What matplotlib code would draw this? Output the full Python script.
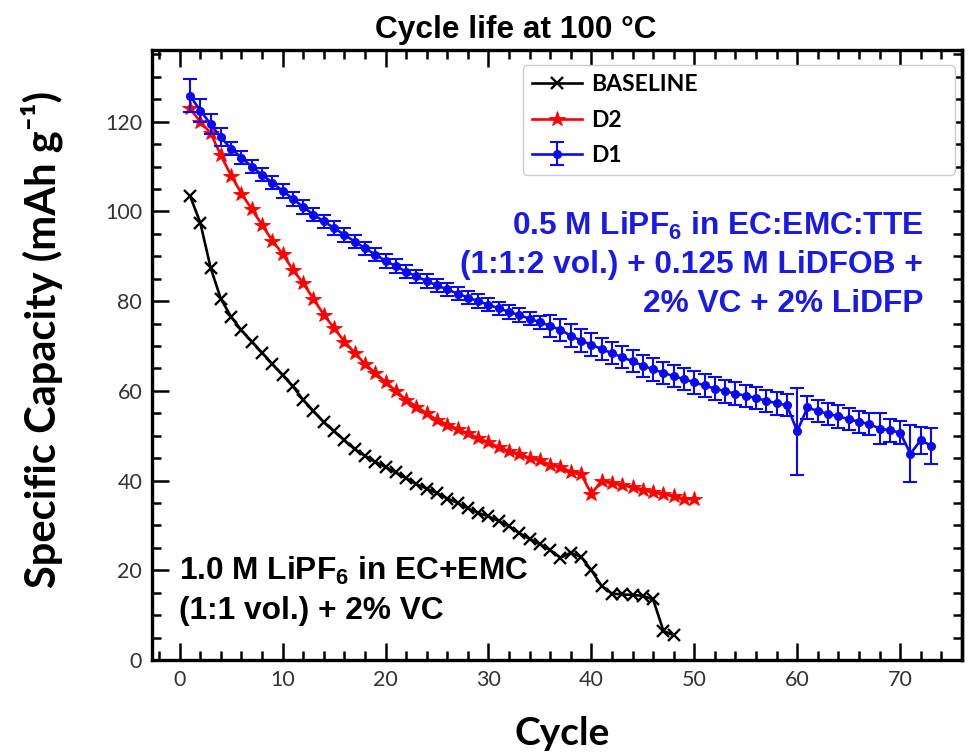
import matplotlib
matplotlib.use("Agg")
import matplotlib.pyplot as plt
from matplotlib.ticker import MultipleLocator

# ---------------- data ----------------
baseline_cycle = list(range(1, 49))
baseline_cap = [103.5, 97.5, 87.5, 80.5, 76.5, 73.5, 71.0, 68.5, 66.0, 63.5,
                61.0, 58.0, 55.5, 53.0, 51.0, 49.0, 47.0, 45.5, 44.2, 43.0,
                41.8, 40.5, 39.2, 38.2, 37.2, 36.0, 35.0, 33.8, 32.8, 32.0,
                31.0, 29.8, 28.3, 27.0, 25.8, 24.5, 22.8, 23.9, 23.0, 20.0,
                16.5, 14.8, 14.6, 14.5, 14.3, 13.5, 6.5, 5.5]

d2_cycle = list(range(1, 51))
d2_cap = [123.0, 120.0, 117.5, 112.5, 108.0, 104.0, 100.5, 97.0, 93.5, 90.5,
          87.0, 84.0, 80.5, 77.0, 74.0, 71.0, 68.5, 66.0, 64.0, 62.0,
          60.0, 58.0, 56.5, 55.0, 53.5, 52.5, 51.5, 50.5, 49.5, 48.5,
          47.5, 46.5, 46.0, 45.0, 44.5, 43.5, 43.0, 42.0, 41.5, 37.0,
          40.0, 39.5, 39.0, 38.5, 38.0, 37.5, 37.0, 36.5, 36.0, 35.8]

d1_cycle = list(range(1, 74))
d1_cap = [125.8, 122.5, 119.5, 116.5, 114.0, 112.0, 110.0, 108.2, 106.4, 104.6,
          102.8, 101.0, 99.3, 97.8, 96.3, 94.8, 93.3, 91.8, 90.4, 89.0,
          87.8, 86.6, 85.5, 84.5, 83.5, 82.6, 81.7, 80.8, 80.0, 79.2,
          78.4, 77.6, 76.9, 76.1, 75.3, 74.5, 73.6, 72.3, 71.2, 70.3,
          69.3, 68.4, 67.5, 66.6, 65.6, 64.8, 64.0, 63.3, 62.6, 61.9,
          61.2, 60.5, 59.9, 59.4, 58.9, 58.4, 57.8, 57.2, 56.8, 51.0,
          56.3, 55.5, 54.9, 54.3, 53.7, 53.1, 52.6, 51.6, 51.2, 50.7,
          46.0, 49.0, 47.8]
d1_err = [3.7, 2.5, 2.2, 2.0, 1.5, 1.5, 1.5, 1.5, 1.5, 1.5,
          1.5, 1.5, 1.5, 1.5, 1.5, 1.5, 1.5, 1.5, 1.5, 1.5,
          1.5, 1.5, 1.5, 1.5, 1.5, 1.5, 1.5, 1.5, 1.5, 1.5,
          1.5, 1.5, 1.5, 1.5, 1.5, 2.5, 2.5, 2.5, 2.5, 2.5,
          2.5, 2.5, 2.5, 2.5, 2.5, 2.5, 2.5, 2.5, 2.5, 2.5,
          2.5, 2.5, 2.5, 2.5, 2.5, 2.5, 2.5, 2.5, 2.5, 9.7,
          2.5, 2.5, 2.5, 2.5, 2.5, 2.5, 2.5, 3.5, 2.5, 2.5,
          6.3, 3.0, 4.0]

x_ticks = [0, 10, 20, 30, 40, 50, 60, 70]
y_ticks = [0, 20, 40, 60, 80, 100, 120]
series_labels = ["BASELINE", "D2", "D1"]

# ---------------- style ----------------
plt.rcParams['mathtext.fontset'] = 'custom'
plt.rcParams['mathtext.rm'] = 'Liberation Sans:bold'
plt.rcParams['mathtext.it'] = 'Liberation Sans:bold'
plt.rcParams['mathtext.bf'] = 'Liberation Sans:bold'

fig = plt.figure(figsize=(9.8, 7.54), dpi=100)
ax = fig.add_axes([0.155, 0.1247, 0.8265, 0.809])

ax.plot(baseline_cycle, baseline_cap, color='black', lw=1.9, marker='x',
        ms=9, mew=1.7, label=series_labels[0], zorder=3)
ax.plot(d2_cycle, d2_cap, color='#ff0000', lw=1.9, marker='*',
        ms=11.5, mew=0.6, label=series_labels[1], zorder=3)
ax.errorbar(d1_cycle, d1_cap, yerr=d1_err, color='#0a0af0', lw=1.9,
            marker='o', ms=5.5, elinewidth=1.5, capsize=5, capthick=1.5,
            label=series_labels[2], zorder=4)

ax.set_xlim(-2.7, 76)
ax.set_ylim(0, 136)
ax.set_xticks(x_ticks)
ax.set_yticks(y_ticks)
ax.xaxis.set_minor_locator(MultipleLocator(2))
ax.yaxis.set_minor_locator(MultipleLocator(5))

for s in ax.spines.values():
    s.set_linewidth(2.4)
ax.tick_params(which='both', direction='in', top=True, right=False, width=1.8,
               colors='black', labelcolor='#333333')
ax.tick_params(which='major', length=12, pad=7)
ax.tick_params(which='minor', length=6.5)
for lab in ax.get_xticklabels() + ax.get_yticklabels():
    lab.set_fontfamily('Lato')
    lab.set_fontsize(15.5)

# right-hand ticks: all short, every 5 units
sec = ax.secondary_yaxis('right')
sec.yaxis.set_major_locator(MultipleLocator(5))
sec.tick_params(direction='in', length=6.5, width=1.8, labelright=False)
sec.spines['right'].set_linewidth(2.4)

ax.set_ylabel("Specific Capacity (mAh g⁻¹)", family=['Lato', 'DejaVu Sans'],
              fontweight='bold', fontsize=30, va='center')
ax.yaxis.set_label_coords(-0.136, 0.526)
ax.set_xlabel("Cycle", family='Lato', fontweight='bold', fontsize=28, va='center')
ax.xaxis.set_label_coords(0.507, -0.12)

leg = ax.legend(loc='upper left', bbox_to_anchor=(0.458, 0.80, 0.533, 0.175),
                mode='expand', borderaxespad=0, frameon=True, fancybox=True,
                edgecolor='#cccccc', framealpha=1, borderpad=0.4,
                labelspacing=0.62, handlelength=2.2, handletextpad=0.4,
                prop={'family': 'Lato', 'weight': 'bold', 'size': 16.5})

# ---------------- annotations ----------------
tkw = dict(family='Liberation Sans', fontweight='bold', fontsize=22.8)
fig.text(516 / 980, 1 - 38 / 754, "Cycle life at 100 °C", ha='center',
         va='baseline', color='black', **tkw)

blue = '#1a1ae6'
fig.text(923 / 980, 1 - 235 / 754, "0.5 M LiPF$_6$ in EC:EMC:TTE", ha='right',
         va='baseline', color=blue, **tkw)
fig.text(923 / 980, 1 - 273 / 754, "(1:1:2 vol.) + 0.125 M LiDFOB +", ha='right',
         va='baseline', color=blue, **tkw)
fig.text(923 / 980, 1 - 312 / 754, "2% VC + 2% LiDFP", ha='right',
         va='baseline', color=blue, **tkw)

fig.text(179 / 980, 1 - 580 / 754, "1.0 M LiPF$_6$ in EC+EMC", ha='left',
         va='baseline', color='black', **tkw)
fig.text(179 / 980, 1 - 619 / 754, "(1:1 vol.) + 2% VC", ha='left',
         va='baseline', color='black', **tkw)

fig.savefig("out.png", dpi=100, facecolor='white')
